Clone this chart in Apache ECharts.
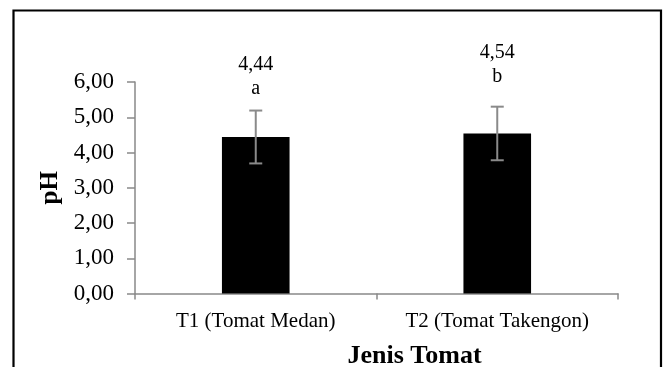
<!DOCTYPE html>
<html>
<head>
<meta charset="utf-8">
<title>pH Jenis Tomat</title>
<script src="https://cdn.jsdelivr.net/npm/echarts@6/dist/echarts.min.js"></script>
<style>
  html, body { margin: 0; padding: 0; background: #fff; }
  #chart { width: 665px; height: 367px; }
</style>
</head>
<body>
<div id="chart"></div>
<script>
// Tomato types and their mean pH with standard deviation
const categories = ['T1 (Tomat Medan)', 'T2 (Tomat Takengon)'];
const phMean = [4.44, 4.54];
const phError = [0.75, 0.76];
const letters = ['a', 'b'];
const yTicks = [0, 1, 2, 3, 4, 5, 6];

const FONT = '"Liberation Serif", "Times New Roman", serif';
const AXIS_GREY = '#898989';
const fmt = v => v.toFixed(2).replace('.', ',');

// lift of the value/letter label above each bar
const labelLift = [36, 45];

const chart = echarts.init(document.getElementById('chart'));

chart.setOption({
  animation: false,
  backgroundColor: '#fff',
  grid: { left: 135, right: 47, top: 82, bottom: 73.5, containLabel: false, outerBoundsMode: 'none' },
  graphic: [{
    type: 'rect',
    shape: { x: 13.5, y: 10.5, width: 647.5, height: 400 },
    style: { fill: 'none', stroke: '#000', lineWidth: 2.2 },
    silent: true
  }],
  xAxis: {
    type: 'category',
    data: categories,
    boundaryGap: true,
    axisLine: { lineStyle: { color: AXIS_GREY, width: 1.5 } },
    axisTick: { show: true, length: 6, lineStyle: { color: AXIS_GREY, width: 1.5 } },
    axisLabel: { color: '#000', fontFamily: FONT, fontSize: 21, margin: 17 },
    name: 'Jenis Tomat',
    nameLocation: 'middle',
    nameGap: 50,
    nameTextStyle: {
      color: '#000', fontFamily: FONT, fontSize: 26, fontWeight: 'bold',
      padding: [0, 0, 0, 76]
    }
  },
  yAxis: {
    type: 'value',
    min: yTicks[0],
    max: yTicks[yTicks.length - 1],
    interval: 1,
    splitLine: { show: false },
    axisLine: { show: true, lineStyle: { color: AXIS_GREY, width: 1.5 } },
    axisTick: { show: true, length: 8, lineStyle: { color: AXIS_GREY, width: 1.5 } },
    axisLabel: {
      color: '#000', fontFamily: FONT, fontSize: 23, margin: 21,
      formatter: v => fmt(v)
    },
    name: 'pH',
    nameLocation: 'middle',
    nameGap: 69,
    nameTextStyle: { color: '#000', fontFamily: FONT, fontSize: 25, fontWeight: 'bold' }
  },
  series: [
    {
      type: 'bar',
      barWidth: '28%',
      itemStyle: { color: '#000' },
      data: phMean.map((v, i) => ({ value: v, label: { distance: labelLift[i] } })),
      label: {
        show: true,
        position: 'top',
        color: '#000',
        fontFamily: FONT,
        fontSize: 20,
        lineHeight: 24,
        formatter: p => fmt(p.value) + '\n' + letters[p.dataIndex]
      },
      z: 2
    },
    {
      // error bars: mean ± standard deviation
      type: 'custom',
      data: phMean.map((v, i) => [i, v - phError[i], v + phError[i]]),
      renderItem: (params, api) => {
        const lo = api.coord([api.value(0), api.value(1)]);
        const hi = api.coord([api.value(0), api.value(2)]);
        const half = 6.5;
        const style = { stroke: '#8a8a8a', lineWidth: 2, fill: 'none' };
        return {
          type: 'group',
          children: [
            { type: 'line', shape: { x1: hi[0], y1: hi[1], x2: lo[0], y2: lo[1] }, style },
            { type: 'line', shape: { x1: hi[0] - half, y1: hi[1], x2: hi[0] + half, y2: hi[1] }, style },
            { type: 'line', shape: { x1: lo[0] - half, y1: lo[1], x2: lo[0] + half, y2: lo[1] }, style }
          ]
        };
      },
      z: 3
    }
  ]
});
</script>
</body>
</html>
